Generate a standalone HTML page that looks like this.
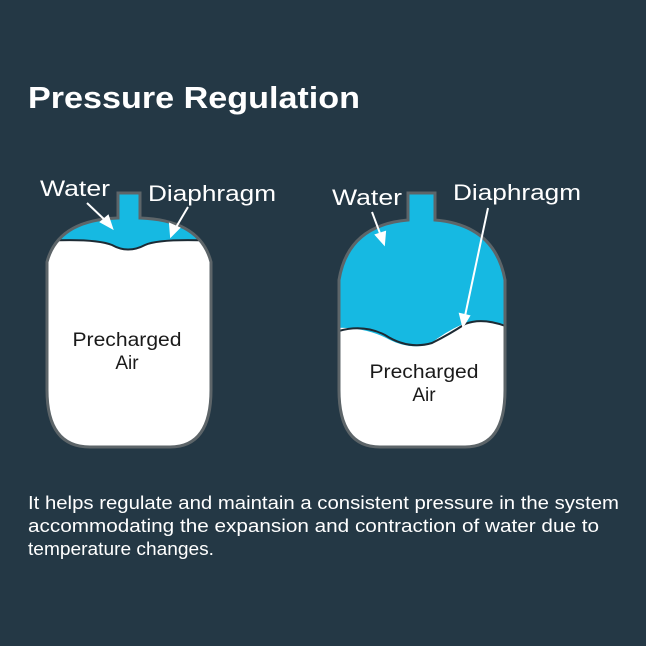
<!DOCTYPE html>
<html><head><style>
html,body{margin:0;padding:0;background:#243845;}
body{width:646px;height:646px;overflow:hidden;position:relative;font-family:"Liberation Sans",sans-serif;}
</style></head><body>
<svg width="646" height="646" xmlns="http://www.w3.org/2000/svg" style="position:absolute;left:0;top:0">
<rect width="646" height="646" fill="#243845"/>
<text x="28" y="108" font-family="Liberation Sans" font-weight="bold" font-size="31" fill="#fff" textLength="332" lengthAdjust="spacingAndGlyphs">Pressure Regulation</text>

<defs>
<clipPath id="lt"><path d="M118,218 L118,193 L140,193 L140,218 Q200,220 211,262 L211,390 Q211,447 170,447 L90,447 Q47,447 47,390 L47,262 Q58,220 118,218 Z"/></clipPath>
<clipPath id="rt"><path d="M408,220 L408,193 L435,193 L435,220 Q495,225 505,280 L505,390 Q505,447 465,447 L380,447 Q339,447 339,390 L339,280 Q348,225 408,220 Z"/></clipPath>
</defs>
<g clip-path="url(#lt)">
<rect x="40" y="185" width="180" height="270" fill="#ffffff"/>
<path d="M40,185 L220,185 L220,241 L200,241 Q160,238 145,245 Q128,254 112,245 Q95,238 40,241 Z" fill="#16b9e2"/>
<path d="M40,241 Q95,238 112,245 Q128,254 145,245 Q160,238 220,241" fill="none" stroke="#1d2a33" stroke-width="2"/>
</g>
<path d="M118,218 L118,193 L140,193 L140,218 Q200,220 211,262 L211,390 Q211,447 170,447 L90,447 Q47,447 47,390 L47,262 Q58,220 118,218 Z" fill="none" stroke="#5d6569" stroke-width="3"/>

<g clip-path="url(#rt)">
<rect x="330" y="185" width="185" height="270" fill="#ffffff"/>
<path d="M330,185 L515,185 L515,328 Q490,318 463,324 Q445,332 430,344 Q410,350 390,340 Q365,326 330,328 Z" fill="#16b9e2"/>
<path d="M330,334 Q360,322 385,335 Q408,350 432,343 Q450,334 465,324 Q485,316 515,330" fill="none" stroke="#1d2a33" stroke-width="2"/>
</g>
<path d="M408,220 L408,193 L435,193 L435,220 Q495,225 505,280 L505,390 Q505,447 465,447 L380,447 Q339,447 339,390 L339,280 Q348,225 408,220 Z" fill="none" stroke="#5d6569" stroke-width="3"/>

<g font-family="Liberation Sans" font-size="22" fill="#fff" lengthAdjust="spacingAndGlyphs">
<text x="40" y="196" textLength="70" lengthAdjust="spacingAndGlyphs">Water</text>
<text x="148" y="201" textLength="128" lengthAdjust="spacingAndGlyphs">Diaphragm</text>
<text x="332" y="205" textLength="70" lengthAdjust="spacingAndGlyphs">Water</text>
<text x="453" y="200" textLength="128" lengthAdjust="spacingAndGlyphs">Diaphragm</text>
</g>
<g font-family="Liberation Sans" font-size="19" fill="#1a1a1a" text-anchor="middle">
<text x="127" y="346" textLength="109" lengthAdjust="spacingAndGlyphs">Precharged</text>
<text x="127" y="369">Air</text>
<text x="424" y="378" textLength="109" lengthAdjust="spacingAndGlyphs">Precharged</text>
<text x="424" y="401">Air</text>
</g>
<g stroke="#fff" stroke-width="2" fill="#fff">
<line x1="87" y1="203" x2="107" y2="222"/><polygon points="112,228 101,222 108,216"/>
<line x1="188" y1="207" x2="175" y2="229"/><polygon points="171,236 170,224 179,228"/>
<line x1="372" y1="212" x2="381" y2="236"/><polygon points="384,244 376,235 385,232"/>
<line x1="488" y1="208" x2="465" y2="316"/><polygon points="463,326 460,314 469,316"/>
</g>
<g font-family="Liberation Sans" font-size="18" fill="#fff">
<text x="28" y="509" textLength="591" lengthAdjust="spacingAndGlyphs">It helps regulate and maintain a consistent pressure in the system</text>
<text x="28" y="532" textLength="571" lengthAdjust="spacingAndGlyphs">accommodating the expansion and contraction of water due to</text>
<text x="28" y="555" textLength="186" lengthAdjust="spacingAndGlyphs">temperature changes.</text>
</g>
</svg>
</body></html>
